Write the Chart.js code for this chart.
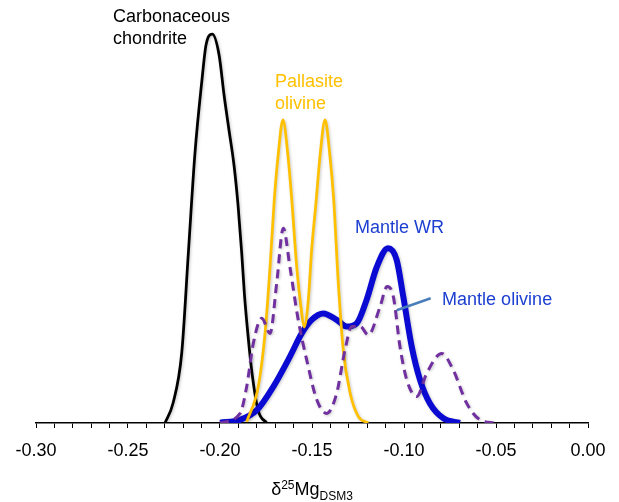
<!DOCTYPE html>
<html>
<head>
<meta charset="utf-8">
<script src="https://cdn.jsdelivr.net/npm/chart.js@4"></script>
<style>
  html, body { margin: 0; padding: 0; background: #fff; }
  #wrap { width: 619px; height: 502px; }
</style>
</head>
<body>
<div id="wrap"><canvas id="myChart" width="619" height="502"></canvas></div>
<script>
  'use strict'

  // delta25Mg (per mil) and relative probability
  const chondriteX = [-0.2299, -0.2255, -0.2208, -0.2172, -0.2136, -0.2098, -0.2076, -0.2042, -0.2005, -0.1978, -0.1951, -0.1924, -0.1902, -0.1882, -0.1867, -0.1853, -0.1828, -0.1793, -0.1746]
  const chondriteY = [0, 5, 17.5, 42.5, 67.5, 85.8, 94.5, 97.2, 92, 82, 73.2, 64.5, 54.5, 42.5, 32, 24.5, 13.2, 3.2, 0]

  const pallasiteX = [-0.1855, -0.1792, -0.1755, -0.1728, -0.1705, -0.1683, -0.1658, -0.1632, -0.161, -0.1583, -0.1556, -0.1543, -0.152, -0.1502, -0.1477, -0.1455, -0.1429, -0.1404, -0.1382, -0.1357, -0.133, -0.1293, -0.1248, -0.1194]
  const pallasiteY = [0.3, 9.1, 22.5, 39, 55.8, 67.4, 75.8, 67.4, 55.8, 39, 27.5, 24, 30.8, 43.2, 55.8, 67.4, 75.8, 67.4, 55.8, 35, 18.2, 7.5, 1.6, 0]

  const mantleWRX = [-0.2, -0.1891, -0.18, -0.171, -0.162, -0.1556, -0.1502, -0.1439, -0.1366, -0.1311, -0.1257, -0.1203, -0.1148, -0.1087, -0.104, -0.1004, -0.0958, -0.0913, -0.0859, -0.0786, -0.0696]
  const mantleWRY = [0.1, 0.8, 3.2, 9.1, 16.6, 22.4, 25.8, 27.4, 25.8, 24.1, 24.9, 30.8, 39, 43.7, 40.8, 31.6, 19.1, 10.8, 4.9, 1.2, 0]

  const mantleOlX = [-0.2, -0.1891, -0.1855, -0.1819, -0.1773, -0.1728, -0.1692, -0.1656, -0.162, -0.1575, -0.1529, -0.1474, -0.142, -0.1366, -0.1321, -0.1284, -0.1239, -0.1194, -0.113, -0.1092, -0.1058, -0.1022, -0.0985, -0.0931, -0.0877, -0.0795, -0.0732, -0.0659, -0.0587, -0.0505]
  const mantleOlY = [0, 2.4, 9.1, 19.9, 26.2, 22.4, 34.9, 48.7, 39, 25.8, 15.8, 5.8, 2.4, 7.4, 18.2, 24.1, 24.2, 22, 29.1, 34.1, 31.6, 19.1, 10.8, 6.6, 12.4, 17.4, 13.2, 4.9, 0.8, 0]

  const xMin = -0.30
  const xMax = 0.00

  const FONT = '"Liberation Sans", Arial, Helvetica, sans-serif'

  const pts = (xs, ys) => xs.map((x, i) => ({ x, y: ys[i] }))

  // text labels placed in data units
  const notes = [
    { lines: ['Carbonaceous', 'chondrite'], x: -0.2582, y: 101.5, color: '#000000' },
    { lines: ['Pallasite', 'olivine'], x: -0.1701, y: 85.2, color: '#FFC000' },
    { lines: ['Mantle WR'], x: -0.1266, y: 48.7, color: '#1B3FD0' },
    { lines: ['Mantle olivine'], x: -0.0793, y: 30.7, color: '#1B3FD0' }
  ]
  const pointer = { x1: -0.104, y1: 28.2, x2: -0.0855, y2: 31.2 }

  const shadowPlugin = {
    id: 'shadow',
    beforeDatasetDraw (chart) {
      const c = chart.ctx
      c.save()
      c.shadowColor = 'rgba(0,0,0,0.22)'
      c.shadowBlur = 3
      c.shadowOffsetX = 1
      c.shadowOffsetY = 1
    },
    afterDatasetDraw (chart) {
      chart.ctx.restore()
    }
  }

  const notesPlugin = {
    id: 'notes',
    afterDraw (chart) {
      const c = chart.ctx
      const xs = chart.scales.x
      const ys = chart.scales.y
      c.save()
      c.font = '18px ' + FONT
      c.textAlign = 'left'
      c.textBaseline = 'middle'
      notes.forEach(n => {
        c.fillStyle = n.color
        const px = xs.getPixelForValue(n.x)
        const py = ys.getPixelForValue(n.y)
        n.lines.forEach((t, i) => c.fillText(t, px, py + i * 22))
      })

      // leader line to "Mantle olivine"
      c.strokeStyle = '#4A7EBB'
      c.lineWidth = 2.5
      c.beginPath()
      c.moveTo(xs.getPixelForValue(pointer.x1), ys.getPixelForValue(pointer.y1))
      c.lineTo(xs.getPixelForValue(pointer.x2), ys.getPixelForValue(pointer.y2))
      c.stroke()

      // axis title: δ25Mg DSM3
      const parts = [
        { t: '\u03B4', size: 18, dy: 0 },
        { t: '25', size: 12, dy: -6 },
        { t: 'Mg', size: 18, dy: 0 },
        { t: 'DSM3', size: 12, dy: 5 }
      ]
      let total = 0
      parts.forEach(p => {
        c.font = p.size + 'px ' + FONT
        p.w = c.measureText(p.t).width
        total += p.w
      })
      let x = (xs.left + xs.right) / 2 - total / 2
      const base = chart.chartArea.bottom + 72
      c.fillStyle = '#000'
      c.textBaseline = 'alphabetic'
      parts.forEach(p => {
        c.font = p.size + 'px ' + FONT
        c.fillText(p.t, x, base + p.dy)
        x += p.w
      })
      c.restore()
    }
  }

  const line = (data, color, width, order, dash) => ({
    data,
    borderColor: color,
    backgroundColor: 'transparent',
    borderWidth: width,
    borderDash: dash || [],
    pointRadius: 0,
    cubicInterpolationMode: 'monotone',
    fill: false,
    order
  })

  const ctx = document.getElementById('myChart')
  // eslint-disable-next-line no-unused-vars
  const myChart = new Chart(ctx, {
    type: 'line',
    data: {
      datasets: [
        line(pts(chondriteX, chondriteY), '#000000', 2.75, 3),
        line(pts(mantleWRX, mantleWRY), '#0A0AD2', 6, 2),
        line(pts(pallasiteX, pallasiteY), '#FFC000', 2.75, 1),
        line(pts(mantleOlX, mantleOlY), '#7030A0', 3, 0, [9, 6])
      ]
    },
    options: {
      responsive: false,
      animation: false,
      layout: { padding: { left: 36, right: 31, top: 23, bottom: 0 } },
      plugins: {
        legend: { display: false },
        tooltip: { enabled: false }
      },
      scales: {
        x: {
          type: 'linear',
          min: xMin,
          max: xMax,
          afterFit (scale) { scale.height = 79 },
          border: { display: true, color: '#000', width: 1.5 },
          grid: {
            display: true,
            drawOnChartArea: false,
            drawTicks: true,
            tickLength: 5,
            color: '#000',
            lineWidth: 1
          },
          ticks: {
            stepSize: 0.01,
            autoSkip: false,
            maxRotation: 0,
            padding: 12,
            color: '#000',
            font: { family: FONT, size: 18 },
            callback (v) {
              const k = Math.round(v * 100)
              return k % 5 === 0 ? (k / 100).toFixed(2) : ''
            }
          }
        },
        y: {
          display: false,
          min: 0,
          max: 100
        }
      }
    },
    plugins: [shadowPlugin, notesPlugin]
  })
</script>
</body>
</html>
